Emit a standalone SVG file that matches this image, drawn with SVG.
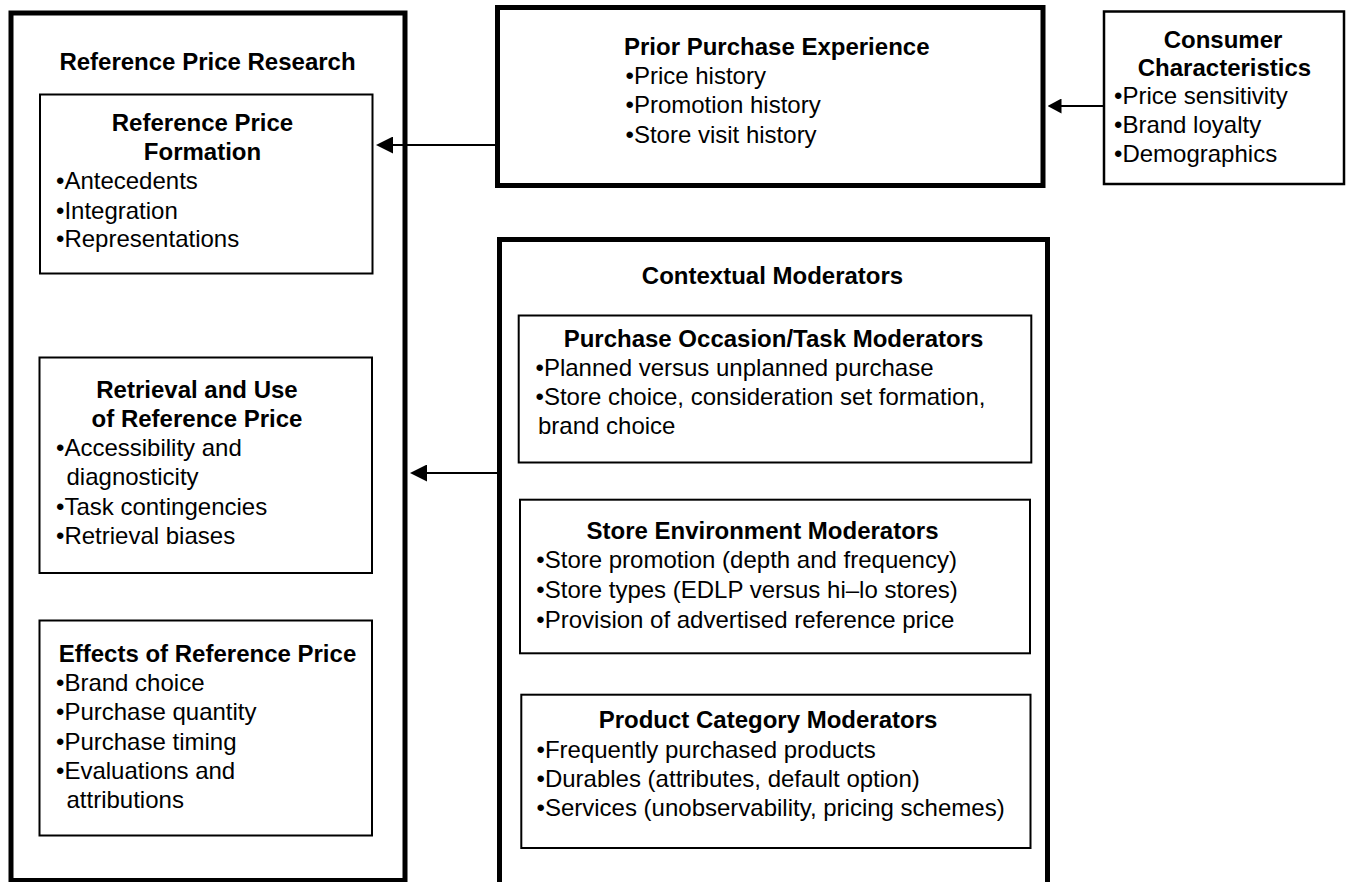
<svg xmlns="http://www.w3.org/2000/svg" width="1346" height="882" viewBox="0 0 1346 882">
<style>
text{font-family:"Liberation Sans",Arial,Helvetica,sans-serif;font-size:24px;fill:#000}
.t{font-weight:bold}
.c{text-anchor:middle}
.thick{fill:none;stroke:#000;stroke-width:5}
.thin{fill:none;stroke:#000;stroke-width:2}
.mid{fill:none;stroke:#000;stroke-width:2.5}
.conn{fill:none;stroke:#000;stroke-width:2}
</style>
<defs>
<marker id="arrow" viewBox="0 0 17 17" refX="7" refY="8.5" markerWidth="17" markerHeight="17" markerUnits="userSpaceOnUse" orient="auto">
<path d="M0,0 L17,8.5 L0,17 Z" fill="#000"/>
</marker>
<marker id="arrowS" viewBox="0 0 14 15" refX="4" refY="7.5" markerWidth="14" markerHeight="15" markerUnits="userSpaceOnUse" orient="auto">
<path d="M0,0 L14,7.5 L0,15 Z" fill="#000"/>
</marker>
</defs>
<rect width="1346" height="882" fill="#fff"/>

<g id="reference-price-research">
<rect class="thick" x="11" y="13" width="394" height="867.5"/>
<text class="t c" x="207.5" y="70">Reference Price Research</text>
</g>

<g id="reference-price-formation">
<rect class="thin" x="40" y="94.5" width="332.5" height="179"/>
<text class="t c" x="202.5" y="131">Reference Price</text>
<text class="t c" x="202.5" y="160">Formation</text>
<text x="56" y="189">•Antecedents</text>
<text x="56" y="218.5">•Integration</text>
<text x="56" y="247">•Representations</text>
</g>

<g id="retrieval-and-use">
<rect class="thin" x="39.5" y="357.5" width="332.5" height="215.5"/>
<text class="t c" x="197" y="398">Retrieval and Use</text>
<text class="t c" x="197" y="427">of Reference Price</text>
<text x="56" y="456">•Accessibility and</text>
<text x="66.5" y="485">diagnosticity</text>
<text x="56" y="514.5">•Task contingencies</text>
<text x="56" y="544">•Retrieval biases</text>
</g>

<g id="effects-of-reference-price">
<rect class="thin" x="39.5" y="620.5" width="332.5" height="215"/>
<text class="t c" x="207.5" y="661.5">Effects of Reference Price</text>
<text x="56" y="691">•Brand choice</text>
<text x="56" y="720">•Purchase quantity</text>
<text x="56" y="749.5">•Purchase timing</text>
<text x="56" y="779">•Evaluations and</text>
<text x="66.5" y="808">attributions</text>
</g>

<g id="prior-purchase-experience">
<rect class="thick" x="497.5" y="7.5" width="545.5" height="178"/>
<text class="t" x="624" y="55">Prior Purchase Experience</text>
<text x="625.5" y="84">•Price history</text>
<text x="625.5" y="113">•Promotion history</text>
<text x="625.5" y="142.5">•Store visit history</text>
</g>

<g id="consumer-characteristics">
<rect class="mid" x="1104" y="11.5" width="240" height="172.5"/>
<text class="t c" x="1223" y="48">Consumer</text>
<text class="t c" x="1224.5" y="76">Characteristics</text>
<text x="1114" y="104">•Price sensitivity</text>
<text x="1114" y="133">•Brand loyalty</text>
<text x="1114" y="162">•Demographics</text>
</g>

<g id="contextual-moderators">
<rect class="thick" x="499.5" y="239.5" width="548" height="700"/>
<text class="t c" x="772.5" y="284">Contextual Moderators</text>
</g>

<g id="purchase-occasion-task-moderators">
<rect class="thin" x="518.7" y="315.5" width="512.6" height="147"/>
<text class="t c" x="773.5" y="347.3">Purchase Occasion/Task Moderators</text>
<text x="535.5" y="376">•Planned versus unplanned purchase</text>
<text x="535.5" y="405">•Store choice, consideration set formation,</text>
<text x="538" y="434"> brand choice</text>
</g>

<g id="store-environment-moderators">
<rect class="thin" x="520" y="499.7" width="510" height="153.6"/>
<text class="t c" x="762.5" y="539.3">Store Environment Moderators</text>
<text x="536.3" y="568.3">•Store promotion (depth and frequency)</text>
<text x="536.3" y="598">•Store types (EDLP versus hi–lo stores)</text>
<text x="536.3" y="627.5">•Provision of advertised reference price</text>
</g>

<g id="product-category-moderators">
<rect class="thin" x="521.3" y="694.7" width="509.2" height="153.3"/>
<text class="t c" x="768" y="727.7">Product Category Moderators</text>
<text x="536.5" y="757.8">•Frequently purchased products</text>
<text x="536.5" y="787">•Durables (attributes, default option)</text>
<text x="536.5" y="816">•Services (unobservability, pricing schemes)</text>
</g>

<g id="connectors">
<line class="conn" x1="497" y1="145" x2="386" y2="145" marker-end="url(#arrow)"/>
<line class="conn" x1="1104" y1="106" x2="1057.5" y2="106" marker-end="url(#arrowS)"/>
<line class="conn" x1="498" y1="473" x2="420" y2="473" marker-end="url(#arrow)"/>
</g>
</svg>
